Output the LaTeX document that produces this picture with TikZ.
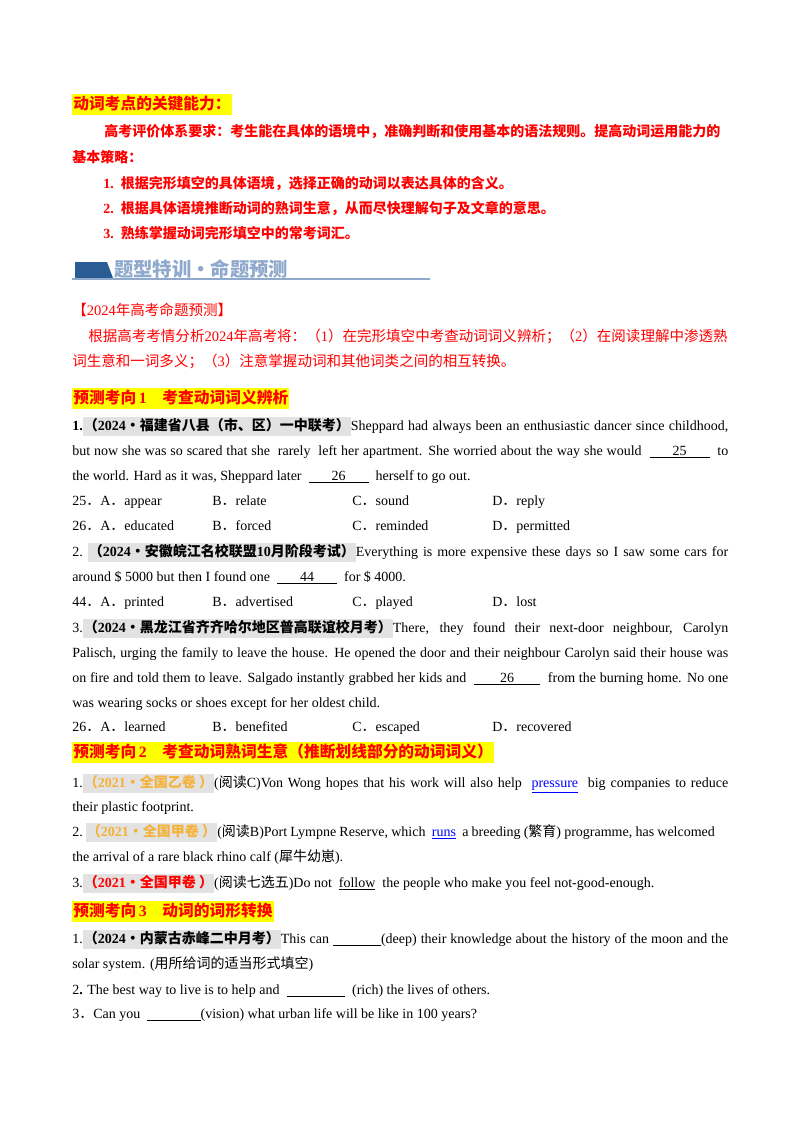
\documentclass[tikz,border=0pt]{standalone}
\usepackage{fontspec}
\setmainfont{Liberation Serif}
\newfontfamily\cjk{Noto Sans CJK SC}
\usepackage{xcolor}
\definecolor{hlgray}{HTML}{E2E2E2}
\definecolor{hlyel}{HTML}{FFFF00}
\definecolor{org}{HTML}{F5B23A}
\definecolor{bannerd}{HTML}{2A5D93}
\definecolor{bannerl}{HTML}{8EA9CC}
\newcommand\C[1]{{\cjk #1}}
\newcommand\hl[2][hlgray]{{\fboxsep=0.8pt\colorbox{#1}{\strut #2}}}
\newcommand\blank[2]{\underline{\makebox[#2]{#1}}}
\newcommand\jl[2][492pt]{\makebox[#1][s]{#2}}
\begin{document}
\begin{tikzpicture}[x=0.75pt,y=-0.75pt,
  every node/.style={anchor=base west,inner sep=0pt,font=\fontsize{10.5}{12}\selectfont},
  red/.style={text=red,font=\fontsize{10.5}{12}\selectfont\bfseries},
  head/.style={text=red,font=\fontsize{11.8}{13}\selectfont\bfseries}]
\useasboundingbox[fill=white] (0,0) rectangle (800,1132);
% top
\node[head] (h1) at (72,109) {\hl[hlyel]{\C{\bfseries 动词考点的关键能力：}}};
\node[red] (h2) at (104,136) {\C{\bfseries 高考评价体系要求：考生能在具体的语境中，准确判断和使用基本的语法规则。提高动词运用能力的}};
\node[red] (h3) at (72,162) {\C{\bfseries 基本策略：}};
\node[red] (s1) at (103,188) {1.\ \ \C{\bfseries 根据完形填空的具体语境，选择正确的动词以表达具体的含义。}};
\node[red] (s2) at (103,213) {2.\ \ \C{\bfseries 根据具体语境推断动词的熟词生意，从而尽快理解句子及文章的意思。}};
\node[red] (s3) at (103,238) {3.\ \ \C{\bfseries 熟练掌握动词完形填空中的常考词汇。}};
% banner
\fill[bannerd] (75,262) -- (107,262) -- (113,278) -- (75,278) -- cycle;
\draw[bannerl,line width=1.2pt] (72,279) -- (430,279);
\node[text=bannerl,font=\fontsize{14.5}{16}\selectfont] (bn) at (114,276) {\C{\bfseries 题型特训·命题预测}};
% prediction
\node[text=red,font=\fontsize{10.9}{12}\selectfont] (p0) at (72,315) {\C{【}2024\C{年高考命题预测】}};
\node[text=red,font=\fontsize{10.9}{12}\selectfont] (p1) at (88,341) {\C{根据高考考情分析}2024\C{年高考将：（}1\C{）在完形填空中考查动词词义辨析；（}2\C{）在阅读理解中渗透熟}};
\node[text=red,font=\fontsize{10.9}{12}\selectfont] (p2) at (72,366) {\C{词生意和一词多义；（}3\C{）注意掌握动词和其他词类之间的相互转换。}};
% section 1
\node[head] (k1) at (72,403) {\hl[hlyel]{\C{\bfseries 预测考向}\,1\quad\C{\bfseries 考查动词词义辨析}}};
\node (q1a) at (72,430) {\jl{\textbf{1.}\hl{\textbf{\C{\bfseries（}2024\C{\bfseries·福建省八县（市、区）一中联考）}}}Sheppard had always been an enthusiastic dancer since childhood,}};
\node (q1b) at (72,455) {\jl{but now she was so scared that she \ rarely \ left her apartment. She worried about the way she would \ \blank{25}{45pt} \ to}};
\node (q1c) at (72,480) {the world. Hard as it was, Sheppard later \ \blank{26}{45pt} \ herself to go out.};
\foreach \x/\t/\n in {72/{25\C{．}A\C{．}appear}/o1a,212/{B\C{．}relate}/o1b,352/{C\C{．}sound}/o1c,492/{D\C{．}reply}/o1d}
  \node (\n) at (\x,505) {\t};
\foreach \x/\t/\n in {72/{26\C{．}A\C{．}educated}/o2a,212/{B\C{．}forced}/o2b,352/{C\C{．}reminded}/o2c,492/{D\C{．}permitted}/o2d}
  \node (\n) at (\x,530) {\t};
\node (q2a) at (72,556) {\jl{2.\ \hl{\textbf{\C{\bfseries（}2024\C{\bfseries•安徽皖江名校联盟}10\C{\bfseries 月阶段考试）}}}Everything is more expensive these days so I saw some cars for}};
\node (q2b) at (72,581) {around \$ 5000 but then I found one \ \blank{44}{45pt} \ for \$ 4000.};
\foreach \x/\t/\n in {72/{44\C{．}A\C{．}printed}/o3a,212/{B\C{．}advertised}/o3b,352/{C\C{．}played}/o3c,492/{D\C{．}lost}/o3d}
  \node (\n) at (\x,606) {\t};
\node (q3a) at (72,632) {\jl{3.\hl{\textbf{\C{\bfseries（}2024\C{\bfseries•黑龙江省齐齐哈尔地区普高联谊校月考）}}}There, they found their next-door neighbour, Carolyn}};
\node (q3b) at (72,657) {\jl{Palisch, urging the family to leave the house. He opened the door and their neighbour Carolyn said their house was}};
\node (q3c) at (72,682) {\jl{on fire and told them to leave. Salgado instantly grabbed her kids and \ \blank{26}{50pt} \ from the burning home. No one}};
\node (q3d) at (72,707) {was wearing socks or shoes except for her oldest child.};
\foreach \x/\t/\n in {72/{26\C{．}A\C{．}learned}/o4a,212/{B\C{．}benefited}/o4b,352/{C\C{．}escaped}/o4c,492/{D\C{．}recovered}/o4d}
  \node (\n) at (\x,731) {\t};
% section 2
\node[head] (k2) at (72,757) {\hl[hlyel]{\C{\bfseries 预测考向}\,2\quad\C{\bfseries 考查动词熟词生意（推断划线部分的动词词义）}}};
\node (r1a) at (72,787) {\jl{1.\hl{\textcolor{org}{\textbf{\C{\bfseries（}2021\C{\bfseries·全国乙卷\ ）}}}}(\C{阅读}C)Von Wong hopes that his work will also help \ \textcolor{blue}{\underline{pressure}} \ big companies to reduce}};
\node (r1b) at (72,811) {their plastic footprint.};
\node (r2a) at (72,836) {\jl[482pt]{2.\ \hl{\textcolor{org}{\textbf{\C{\bfseries（}2021\C{\bfseries·全国甲卷\ ）}}}}(\C{阅读}B)Port Lympne Reserve, which \ \textcolor{blue}{\underline{runs}} \ a breeding (\C{繁育}) programme, has welcomed}};
\node (r2b) at (72,861) {the arrival of a rare black rhino calf (\C{犀牛幼崽}).};
\node (r3) at (72,887) {3.\hl{\textcolor{red}{\textbf{\C{\bfseries（}2021\C{\bfseries·全国甲卷\ ）}}}}(\C{阅读七选五})Do not \ \underline{follow} \ the people who make you feel not-good-enough.};
% section 3
\node[head] (k3) at (72,916) {\hl[hlyel]{\C{\bfseries 预测考向}\,3\quad\C{\bfseries 动词的词形转换}}};
\node (t1a) at (72,943) {\jl{1.\hl{\textbf{\C{\bfseries（}2024\C{\bfseries·内蒙古赤峰二中月考）}}}This can \underline{\hspace{36pt}}(deep) their knowledge about the history of the moon and the}};
\node (t1b) at (72,968) {solar system. (\C{用所给词的适当形式填空})};
\node (t2) at (72,994) {2\textbf{.} The best way to live is to help and \ \underline{\hspace{44pt}} \ (rich) the lives of others.};
\node (t3) at (72,1018) {3\C{．}Can you \ \underline{\hspace{40pt}}(vision) what urban life will be like in 100 years?};
\end{tikzpicture}
\end{document}
